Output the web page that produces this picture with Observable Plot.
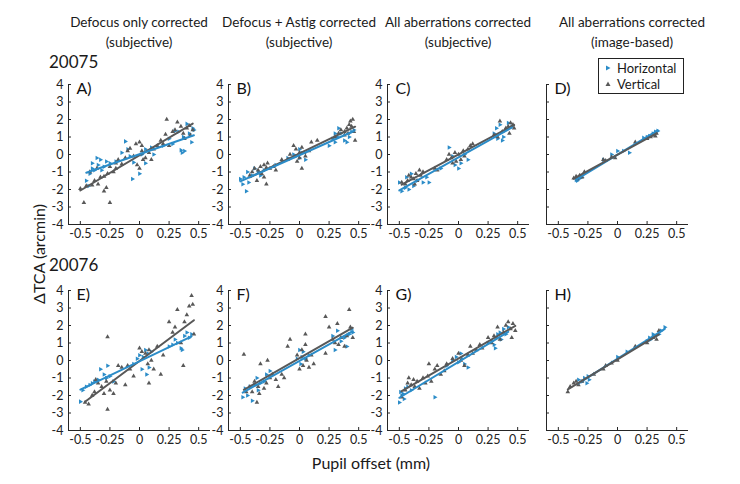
<!DOCTYPE html>
<html><head><meta charset="utf-8">
<script src="https://cdn.jsdelivr.net/npm/d3@7"></script>
<script src="https://cdn.jsdelivr.net/npm/@observablehq/plot@0.6"></script>
<style>
body{margin:0;background:#fff;}
#wrap{position:relative;width:740px;height:484px;font-family:Lato,"Open Sans",sans-serif;color:#1a1a1a;overflow:hidden;}
.t{position:absolute;white-space:nowrap;}
.p{position:absolute;}
.p svg{overflow:visible;}
</style></head><body><div id="wrap"></div>
<script>
// ---- labels ----
const columnTitles = [
  ["Defocus only corrected", "(subjective)"],
  ["Defocus + Astig corrected", "(subjective)"],
  ["All aberrations corrected", "(subjective)"],
  ["All aberrations corrected", "(image-based)"]
];
const subjects = ["20075", "20076"];
const panelLabels = ["A)", "B)", "C)", "D)", "E)", "F)", "G)", "H)"];
const seriesNames = ["Horizontal", "Vertical"];
const xTicks = [-0.5, -0.25, 0, 0.25, 0.5];
const yTicks = [-4, -3, -2, -1, 0, 1, 2, 3, 4];
const xLabel = "Pupil offset (mm)";
const yLabel = "ΔTCA (arcmin)";

// ---- data: [pupil offset mm, ΔTCA arcmin] ----
const horizA = [[-0.42,-1.1],[-0.4,-0.5],[-0.38,-0.9],[-0.35,-0.6],[-0.33,-0.3],[-0.36,-0.2],[-0.3,-0.7],[-0.28,-0.4],[-0.32,-0.9],[-0.4,-0.8],[-0.45,-1.5],[-0.43,-1.8],[-0.25,-0.5],[-0.2,-0.4],[-0.12,0.75],[-0.08,-0.1],[-0.05,-0.45],[-0.06,-1.4],[0.0,-1.1],[0.05,-0.5],[0.05,0.3],[0.1,0.4],[0.12,0.0],[0.2,0.5],[0.25,0.9],[0.28,0.6],[0.33,1.3],[0.35,0.25],[0.36,0.1],[0.38,0.2],[0.37,1.0],[0.4,1.75],[0.42,1.2],[0.44,0.7],[0.45,1.5],[0.46,1.4],[0.3,1.35],[-0.1,0.3],[0.02,0.0],[-0.15,0.1]];
const vertA = [[-0.47,-2.75],[-0.25,-2.75],[-0.3,-2.1],[-0.28,-1.9],[-0.5,-1.95],[-0.45,-1.8],[-0.4,-1.75],[-0.35,-1.7],[-0.38,-1.5],[-0.33,-1.3],[-0.3,-1.25],[-0.27,-1.1],[-0.22,-1.0],[-0.2,-0.8],[-0.25,-0.7],[-0.2,-0.5],[-0.18,-0.3],[-0.15,-0.55],[-0.12,-0.2],[-0.1,0.2],[-0.05,-0.1],[-0.03,0.6],[0,0.7],[0.02,0.2],[0.03,-0.3],[-0.02,-0.6],[0,-0.8],[0.05,-0.2],[0.08,0.1],[0.1,-0.3],[0.12,0.3],[0.15,0.5],[0.18,0.8],[0.2,0.6],[0.22,1.15],[0.23,2.0],[0.25,0.5],[0.28,1.3],[0.3,1.4],[0.32,1.85],[0.35,1.6],[0.37,1.2],[0.4,1.5],[0.42,1.65],[0.43,1.1],[0.45,1.4],[0.02,0.5],[-0.08,0.35],[-0.42,-1.0],[-0.36,-0.8],[0.38,0.9]];
const horizB = [[-0.5,-1.4],[-0.48,-1.7],[-0.47,-1.3],[-0.45,-2.1],[-0.43,-1.6],[-0.4,-1.2],[-0.38,-0.8],[-0.35,-1.0],[-0.33,-1.2],[-0.3,-0.9],[-0.2,-0.6],[-0.1,-0.2],[-0.05,0.0],[-0.03,-0.1],[0,0.3],[0,-0.2],[0.02,0.1],[0.05,-0.3],[0.25,0.5],[0.3,0.7],[0.32,1.0],[0.33,1.5],[0.35,1.2],[0.38,0.8],[0.4,0.7],[0.42,1.0],[0.44,1.3],[0.46,1.4],[0.3,1.2],[-0.44,-1.0],[0.28,0.9]];
const vertB = [[-0.42,-1.2],[-0.4,-1.0],[-0.38,-0.8],[-0.35,-0.9],[-0.33,-0.7],[-0.3,-0.6],[-0.32,-1.1],[-0.28,-0.75],[-0.27,-0.5],[-0.25,-0.8],[-0.22,-0.7],[-0.2,-0.9],[-0.3,-1.3],[-0.28,-1.7],[-0.36,-1.5],[-0.15,-0.3],[-0.1,-0.3],[-0.05,0.5],[-0.03,0.3],[0,0.1],[0,-0.2],[0.02,0.4],[0.04,0.1],[0.05,-0.1],[0.08,0.2],[0.1,0.7],[0.15,0.8],[0.02,-0.8],[0.3,1.0],[0.33,1.2],[0.35,1.4],[0.38,1.1],[0.4,1.5],[0.42,1.7],[0.43,1.9],[0.45,2.0],[0.46,1.3],[0.47,0.8],[0.44,1.6],[0.41,1.2],[0.38,1.3],[-0.08,0.0],[-0.02,-0.4]];
const horizC = [[-0.5,-1.6],[-0.48,-2.1],[-0.45,-1.9],[-0.42,-2.0],[-0.4,-1.1],[-0.38,-1.8],[-0.35,-1.5],[-0.3,-1.6],[-0.27,-1.3],[-0.25,-1.6],[-0.15,-0.8],[-0.08,0.4],[-0.05,-0.1],[-0.03,-0.6],[0,-0.8],[0.02,-0.5],[0.05,0.0],[0.08,-0.3],[0.3,1.2],[0.32,1.5],[0.35,1.7],[0.37,0.8],[0.4,1.4],[0.42,1.8],[0.45,1.6],[0.33,0.9],[0.38,1.0],[-0.44,-1.3]];
const vertC = [[-0.48,-1.6],[-0.45,-1.7],[-0.43,-1.5],[-0.42,-1.2],[-0.4,-1.3],[-0.38,-1.4],[-0.36,-1.1],[-0.35,-1.5],[-0.33,-0.9],[-0.32,-1.2],[-0.3,-1.0],[-0.2,-0.8],[-0.18,-0.9],[-0.1,-0.3],[-0.08,0.0],[-0.06,-0.2],[-0.05,-0.5],[-0.03,0.1],[0,0.0],[0.02,-0.3],[0.04,0.2],[0.05,-0.1],[0.08,0.3],[0.1,0.5],[0.12,0.6],[0.3,1.1],[0.33,1.0],[0.35,1.9],[0.37,1.3],[0.4,1.5],[0.42,1.6],[0.44,1.8],[0.46,1.7],[0.47,1.5],[0.43,1.2],[-0.37,-1.7],[-0.02,-0.4]];
const horizD = [[-0.35,-1.45],[-0.33,-1.4],[-0.32,-1.35],[-0.3,-1.3],[-0.34,-1.5],[-0.05,0.0],[0.05,0.2],[0.1,0.1],[0.25,1.0],[0.27,1.05],[0.3,1.2],[0.32,1.3],[0.34,1.35],[0.22,0.95],[-0.12,-0.3],[0.0,0.2]];
const vertD = [[-0.37,-1.35],[-0.35,-1.25],[-0.34,-1.4],[-0.32,-1.2],[-0.3,-1.3],[-0.28,-1.0],[-0.12,-0.3],[-0.1,-0.35],[-0.05,-0.15],[-0.02,-0.2],[0.15,0.7],[0.25,0.9],[0.28,1.0],[0.3,1.1],[0.32,1.05],[0.33,1.2]];
const horizE = [[-0.5,-2.35],[-0.48,-1.7],[-0.45,-1.5],[-0.42,-1.4],[-0.4,-1.3],[-0.38,-1.2],[-0.35,-1.1],[-0.33,-0.5],[-0.3,-0.8],[-0.28,-1.0],[-0.25,-0.9],[-0.27,-0.3],[-0.22,-1.2],[-0.05,-0.2],[-0.02,0.1],[0,0.3],[0.02,-0.5],[0.03,0.2],[0.05,0.6],[0.07,0.4],[0.08,-0.4],[0.1,0.5],[0.25,0.8],[0.28,0.9],[0.3,1.2],[0.32,1.0],[0.35,0.7],[0.38,1.4],[0.4,1.6],[0.42,1.3],[0.44,1.5],[0.36,0.6],[0.06,-0.8]];
const vertE = [[-0.46,-2.4],[-0.43,-2.5],[-0.4,-2.0],[-0.38,-1.8],[-0.35,-1.3],[-0.32,-1.5],[-0.3,-1.9],[-0.28,-1.2],[-0.27,-2.8],[-0.27,1.35],[-0.25,-1.7],[-0.22,-1.9],[-0.2,-1.3],[-0.18,-0.3],[-0.15,-0.4],[-0.12,-1.4],[-0.08,-0.5],[-0.05,-0.9],[0,0.7],[0.02,0.5],[0.05,0.4],[0.07,-0.2],[0.08,-1.3],[0.1,0.0],[0.12,-0.5],[0.15,0.8],[0.18,-0.8],[0.2,0.3],[0.25,2.2],[0.28,1.6],[0.3,1.9],[0.32,2.9],[0.35,1.0],[0.37,-0.3],[0.38,2.2],[0.4,2.6],[0.42,3.1],[0.44,3.7],[0.45,3.2],[0.46,1.5],[-0.37,-1.1],[-0.1,-0.3],[0.08,0.6]];
const horizF = [[-0.48,-2.1],[-0.46,-1.6],[-0.44,-2.0],[-0.4,-2.3],[-0.38,-1.4],[-0.36,-1.0],[-0.35,-1.7],[-0.33,-1.3],[-0.3,-1.2],[-0.28,-0.8],[-0.25,-0.6],[-0.02,0.1],[0,0.6],[0.01,-0.2],[0.02,0.2],[0.03,0.5],[0.05,0.1],[0.08,0.3],[0.3,0.6],[0.32,1.7],[0.35,1.1],[0.38,1.3],[0.4,0.8],[0.42,1.5],[0.44,1.8],[0.45,1.6],[0.28,1.4],[-0.42,-1.5]];
const vertF = [[-0.47,0.35],[-0.45,-1.8],[-0.42,-1.5],[-0.4,-1.8],[-0.38,-1.2],[-0.36,-2.4],[-0.35,-1.5],[-0.33,-0.2],[-0.3,-1.6],[-0.28,-1.3],[-0.27,0.0],[-0.25,-1.0],[-0.23,-0.8],[-0.2,-1.1],[-0.18,-1.5],[-0.15,-0.8],[-0.13,-1.0],[-0.1,0.8],[-0.08,1.2],[-0.02,0.3],[0,-0.5],[0.02,0.6],[0.03,-0.3],[0.05,0.9],[0.06,0.0],[0.08,-0.4],[0.1,0.3],[0.12,-0.2],[0.05,1.5],[0.22,2.5],[0.25,1.9],[0.28,1.2],[0.3,1.0],[0.32,2.1],[0.35,1.3],[0.38,0.8],[0.4,1.4],[0.42,2.9],[0.43,1.9],[0.45,1.3],[0.33,0.9],[0.22,0.4],[-0.34,-1.9]];
const horizG = [[-0.5,-2.4],[-0.49,-1.8],[-0.48,-2.0],[-0.47,-1.9],[-0.45,-1.6],[-0.43,-1.5],[-0.4,-1.7],[-0.2,-2.1],[-0.1,-0.3],[-0.05,0.0],[-0.02,0.2],[0,-0.1],[0.02,0.4],[0.03,0.1],[0.05,-0.2],[0.08,-0.4],[0.25,1.0],[0.28,1.1],[0.3,0.9],[0.32,1.3],[0.33,1.5],[0.35,1.6],[0.36,1.2],[0.38,1.8],[0.4,1.5],[0.42,1.9],[0.31,0.7],[-0.46,-2.2]];
const vertG = [[-0.48,-2.1],[-0.45,-1.7],[-0.43,-1.3],[-0.42,-1.0],[-0.4,-1.4],[-0.38,-1.1],[-0.35,-1.2],[-0.33,-1.6],[-0.3,-1.0],[-0.28,-1.3],[-0.26,-0.9],[-0.25,-0.2],[-0.23,-1.2],[-0.2,-0.5],[-0.18,-0.3],[-0.15,-0.8],[-0.12,-0.6],[-0.1,-0.2],[-0.05,0.1],[0,0.4],[0.02,0.0],[0.05,-0.3],[0.08,0.3],[0.1,0.8],[0.12,0.4],[0.15,0.6],[0.18,0.9],[0.2,0.7],[0.25,1.3],[0.28,1.0],[0.3,1.4],[0.33,1.9],[0.35,1.2],[0.38,1.6],[0.4,2.0],[0.42,2.2],[0.44,1.8],[0.46,2.1],[0.48,1.7],[0.45,1.3],[-0.37,-1.5]];
const horizH = [[-0.33,-1.1],[-0.3,-1.2],[-0.28,-1.0],[-0.26,-1.3],[-0.25,-0.9],[-0.24,-1.1],[0.08,0.5],[0.0,0.2],[0.25,1.1],[0.27,1.3],[0.3,1.5],[0.32,1.4],[0.35,1.5],[0.37,1.7],[0.4,1.9],[0.28,1.2]];
const vertH = [[-0.42,-1.8],[-0.4,-1.5],[-0.37,-1.3],[-0.35,-1.2],[-0.33,-1.4],[-0.3,-1.2],[-0.2,-0.8],[-0.12,-0.5],[-0.1,-0.3],[-0.05,-0.15],[0.0,0.0],[0.15,0.8],[0.25,1.0],[0.3,1.3],[0.33,1.2],[0.35,1.7]];

const horizData = [horizA, horizB, horizC, horizD, horizE, horizF, horizG, horizH];
const vertData = [vertA, vertB, vertC, vertD, vertE, vertF, vertG, vertH];

// ---- style / layout ----
const blue = "#2b8cc8", gray = "#585858", axisColor = "#262626";
const frameLeft = [68, 228, 387, 546], frameTop = [84, 290];
const colCenter = [139, 299, 458, 632];
const mL = 30, mR = 12, mT = 10, mB = 24, FW = 142, FH = 140;

const wrap = document.getElementById("wrap");
function addText(txt, css) {
  const d = document.createElement("div");
  d.className = "t"; d.textContent = txt;
  Object.assign(d.style, css);
  wrap.appendChild(d);
  return d;
}

columnTitles.forEach((lines, c) => {
  lines.forEach((ln, k) => addText(ln, {left: colCenter[c] + "px", top: (13 + k * 20) + "px", transform: "translateX(-50%)", fontSize: "13.5px", lineHeight: "18px"}));
});
subjects.forEach((s, r) => addText(s, {left: "49px", top: (r === 0 ? 52 : 255) + "px", fontSize: "17px", lineHeight: "20px"}));
addText(xLabel, {left: "371px", top: "453px", transform: "translateX(-50%)", fontSize: "16px", lineHeight: "20px"});
addText(yLabel, {left: "39px", top: "254px", transform: "translate(-50%,-50%) rotate(-90deg)", fontSize: "16px", lineHeight: "18px"});

for (let i = 0; i < 8; i++) {
  const r = Math.floor(i / 4), c = i % 4;
  const hideY = c === 3;
  const h = horizData[i], v = vertData[i];
  const lines = [
    Plot.linearRegressionY(v, {x: d => d[0], y: d => d[1], stroke: gray, strokeWidth: 2, ci: 0}),
    Plot.linearRegressionY(h, {x: d => d[0], y: d => d[1], stroke: blue, strokeWidth: 2, ci: 0})
  ];
  if (hideY) lines.reverse();
  const chart = Plot.plot({
    width: mL + FW + mR, height: mT + FH + mB,
    marginLeft: mL, marginRight: mR, marginTop: mT, marginBottom: mB,
    style: {fontFamily: "Lato, 'Open Sans', sans-serif", color: axisColor, background: "transparent", overflow: "visible"},
    x: {domain: [-0.6, 0.6]},
    y: {domain: [-4, 4]},
    marks: [
      Plot.axisX({ticks: xTicks, tickFormat: d => String(d), tickSize: 3, dy: -3, tickPadding: 5, fontSize: 12.5, stroke: axisColor, fill: "#222"}),
      Plot.axisY({ticks: yTicks, tickFormat: hideY ? () => "" : d => String(d), tickSize: 3, dx: 3, tickPadding: 5, fontSize: 12.5, stroke: axisColor, fill: "#222"}),
      Plot.ruleX([-0.6], {stroke: axisColor, strokeWidth: 1}),
      Plot.ruleY([-4], {stroke: axisColor, strokeWidth: 1}),
      Plot.dot(h, {x: d => d[0], y: d => d[1], symbol: "triangle", rotate: 90, r: 1.7, fill: blue, stroke: "none"}),
      Plot.dot(v, {x: d => d[0], y: d => d[1], symbol: "triangle", r: 1.7, fill: gray, stroke: "none"}),
      ...lines,
      Plot.text([panelLabels[i]], {frameAnchor: "top-left", dx: 8, dy: 4, text: d => d, textAnchor: "start", lineAnchor: "middle", fontSize: 16, fill: "#111"})
    ]
  });
  const holder = document.createElement("div");
  holder.className = "p";
  holder.style.left = (frameLeft[c] - mL) + "px";
  holder.style.top = (frameTop[r] - mT) + "px";
  holder.appendChild(chart);
  wrap.appendChild(holder);
}

// legend box (in panel D)
const leg = document.createElement("div");
Object.assign(leg.style, {position: "absolute", left: "598px", top: "58px", width: "84px", height: "34px", border: "1.5px solid #222", background: "#fff"});
seriesNames.forEach((name, k) => {
  const row = document.createElement("div");
  Object.assign(row.style, {position: "absolute", left: "4px", top: (k * 16 + 1) + "px", height: "16px", lineHeight: "16px", display: "flex", alignItems: "center", fontSize: "13px", whiteSpace: "nowrap"});
  const svgNS = "http://www.w3.org/2000/svg";
  const s = document.createElementNS(svgNS, "svg");
  s.setAttribute("width", "10"); s.setAttribute("height", "10");
  const p = document.createElementNS(svgNS, "polygon");
  p.setAttribute("points", k === 0 ? "3,2.5 7.5,5 3,7.5" : "5,2.5 7.5,7 2.5,7");
  p.setAttribute("fill", k === 0 ? blue : gray);
  s.appendChild(p);
  const t = document.createElement("span");
  t.textContent = name; t.style.marginLeft = "4px";
  row.appendChild(s); row.appendChild(t);
  leg.appendChild(row);
});
wrap.appendChild(leg);
</script></body></html>
